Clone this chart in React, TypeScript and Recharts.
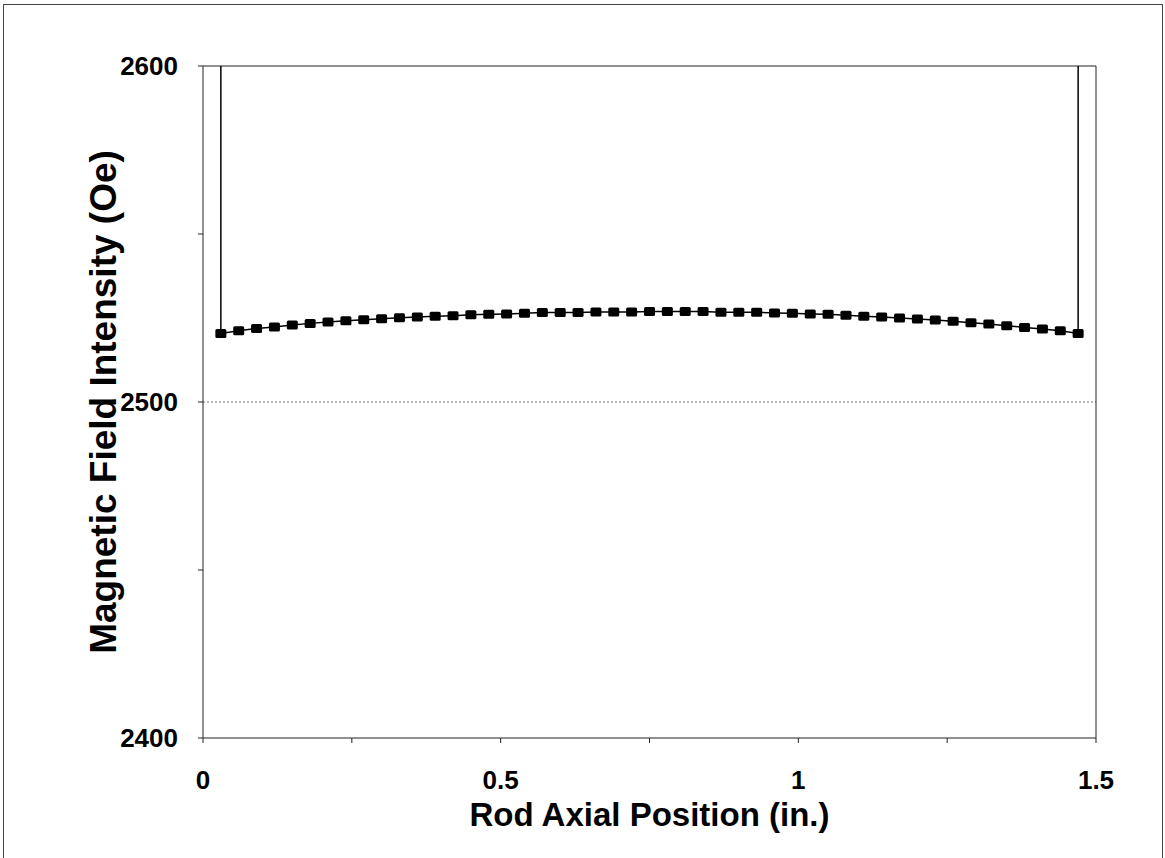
import { LineChart, Line, XAxis, YAxis, ReferenceLine, Label } from 'recharts'

// rod axial position (in.) for each measured point
const positions = [
  0.03, 0.06, 0.09, 0.12, 0.15, 0.18, 0.21, 0.24, 0.27, 0.3,
  0.33, 0.36, 0.39, 0.42, 0.45, 0.48, 0.51, 0.54, 0.57, 0.6,
  0.63, 0.66, 0.69, 0.72, 0.75, 0.78, 0.81, 0.84, 0.87, 0.9,
  0.93, 0.96, 0.99, 1.02, 1.05, 1.08, 1.11, 1.14, 1.17, 1.2,
  1.23, 1.26, 1.29, 1.32, 1.35, 1.38, 1.41, 1.44, 1.47,
]

// magnetic field intensity (Oe)
const fieldValues = [
  2520.4, 2521.2, 2521.9, 2522.3, 2522.9, 2523.4, 2523.8, 2524.2, 2524.5, 2524.8,
  2525.1, 2525.3, 2525.5, 2525.7, 2526.0, 2526.1, 2526.2, 2526.4, 2526.6, 2526.6,
  2526.6, 2526.8, 2526.8, 2526.8, 2526.9, 2526.9, 2526.9, 2526.9, 2526.7, 2526.7,
  2526.7, 2526.5, 2526.4, 2526.2, 2526.1, 2525.8, 2525.5, 2525.3, 2525.0, 2524.7,
  2524.4, 2524.0, 2523.6, 2523.2, 2522.7, 2522.2, 2521.7, 2521.2, 2520.4,
]

// field at the rod ends, off the top of the chart
const endFieldValue = 2750

const xTicks = [0, 0.25, 0.5, 0.75, 1, 1.25, 1.5]
const xTickLabels = ['0', '', '0.5', '', '1', '', '1.5']
const yTicks = [2400, 2450, 2500, 2550, 2600]
const yTickLabels = ['2400', '', '2500', '', '2600']

const data = [
  { x: positions[0], y: endFieldValue },
  ...positions.map((p, i) => ({ x: p, y: fieldValues[i] })),
  { x: positions[positions.length - 1], y: endFieldValue },
]

const font = '"Liberation Sans", Arial, sans-serif'
const tickStyle = { fill: '#000', fontSize: 26, fontWeight: 700, fontFamily: font }

const SquareDot = (props: any) => {
  const { cx, cy, payload, index } = props
  if (payload.y > 2600 || cx == null || cy == null) return <g key={`d${index}`} />
  return <rect key={`d${index}`} x={cx - 5.5} y={cy - 4.5} width={11} height={9} rx={1.5} fill="#000" />
}

export default function App() {
  return (
    <div style={{ position: 'absolute', left: 0, top: 0, width: 1165, height: 858, background: '#fff' }}>
      <div
        style={{
          position: 'absolute',
          left: 3,
          top: 4,
          width: 1158,
          height: 854,
          borderLeft: '1px solid #444',
          borderTop: '1px solid #444',
          borderRight: '1px solid #444',
        }}
      />
      <LineChart
        width={1165}
        height={858}
        data={data}
        margin={{ top: 66, right: 69, left: 3, bottom: 0 }}
        style={{ position: 'absolute', left: 0, top: 0 }}
      >
        <XAxis
          dataKey="x"
          type="number"
          domain={[0, 1.5]}
          ticks={xTicks}
          tickFormatter={(v: number) => xTickLabels[xTicks.indexOf(v)] ?? ''}
          allowDecimals
          height={120}
          stroke="#222"
          tick={tickStyle}
          tickSize={5}
          tickMargin={28}
        >
          <Label
            value="Rod Axial Position (in.)"
            position="insideBottom"
            offset={32}
            style={{ fill: '#000', fontSize: 33, fontWeight: 700, fontFamily: font }}
          />
        </XAxis>
        <YAxis
          type="number"
          domain={[2400, 2600]}
          ticks={yTicks}
          tickFormatter={(v: number) => yTickLabels[yTicks.indexOf(v)] ?? ''}
          allowDataOverflow
          width={200}
          stroke="#222"
          tick={tickStyle}
          tickSize={5}
          tickMargin={20}
        >
          <Label
            value="Magnetic Field Intensity (Oe)"
            position="center"
            angle={-90}
            style={{ fill: '#000', fontSize: 37, fontWeight: 700, fontFamily: font, textAnchor: 'middle' }}
          />
        </YAxis>
        <ReferenceLine y={2500} stroke="#777" strokeDasharray="2 2" />
        <ReferenceLine y={2600} stroke="#222" />
        <ReferenceLine x={1.5} stroke="#222" />
        <Line
          dataKey="y"
          type="linear"
          stroke="#000"
          strokeWidth={1.5}
          dot={SquareDot}
          activeDot={false}
          isAnimationActive={false}
        />
      </LineChart>
    </div>
  )
}
